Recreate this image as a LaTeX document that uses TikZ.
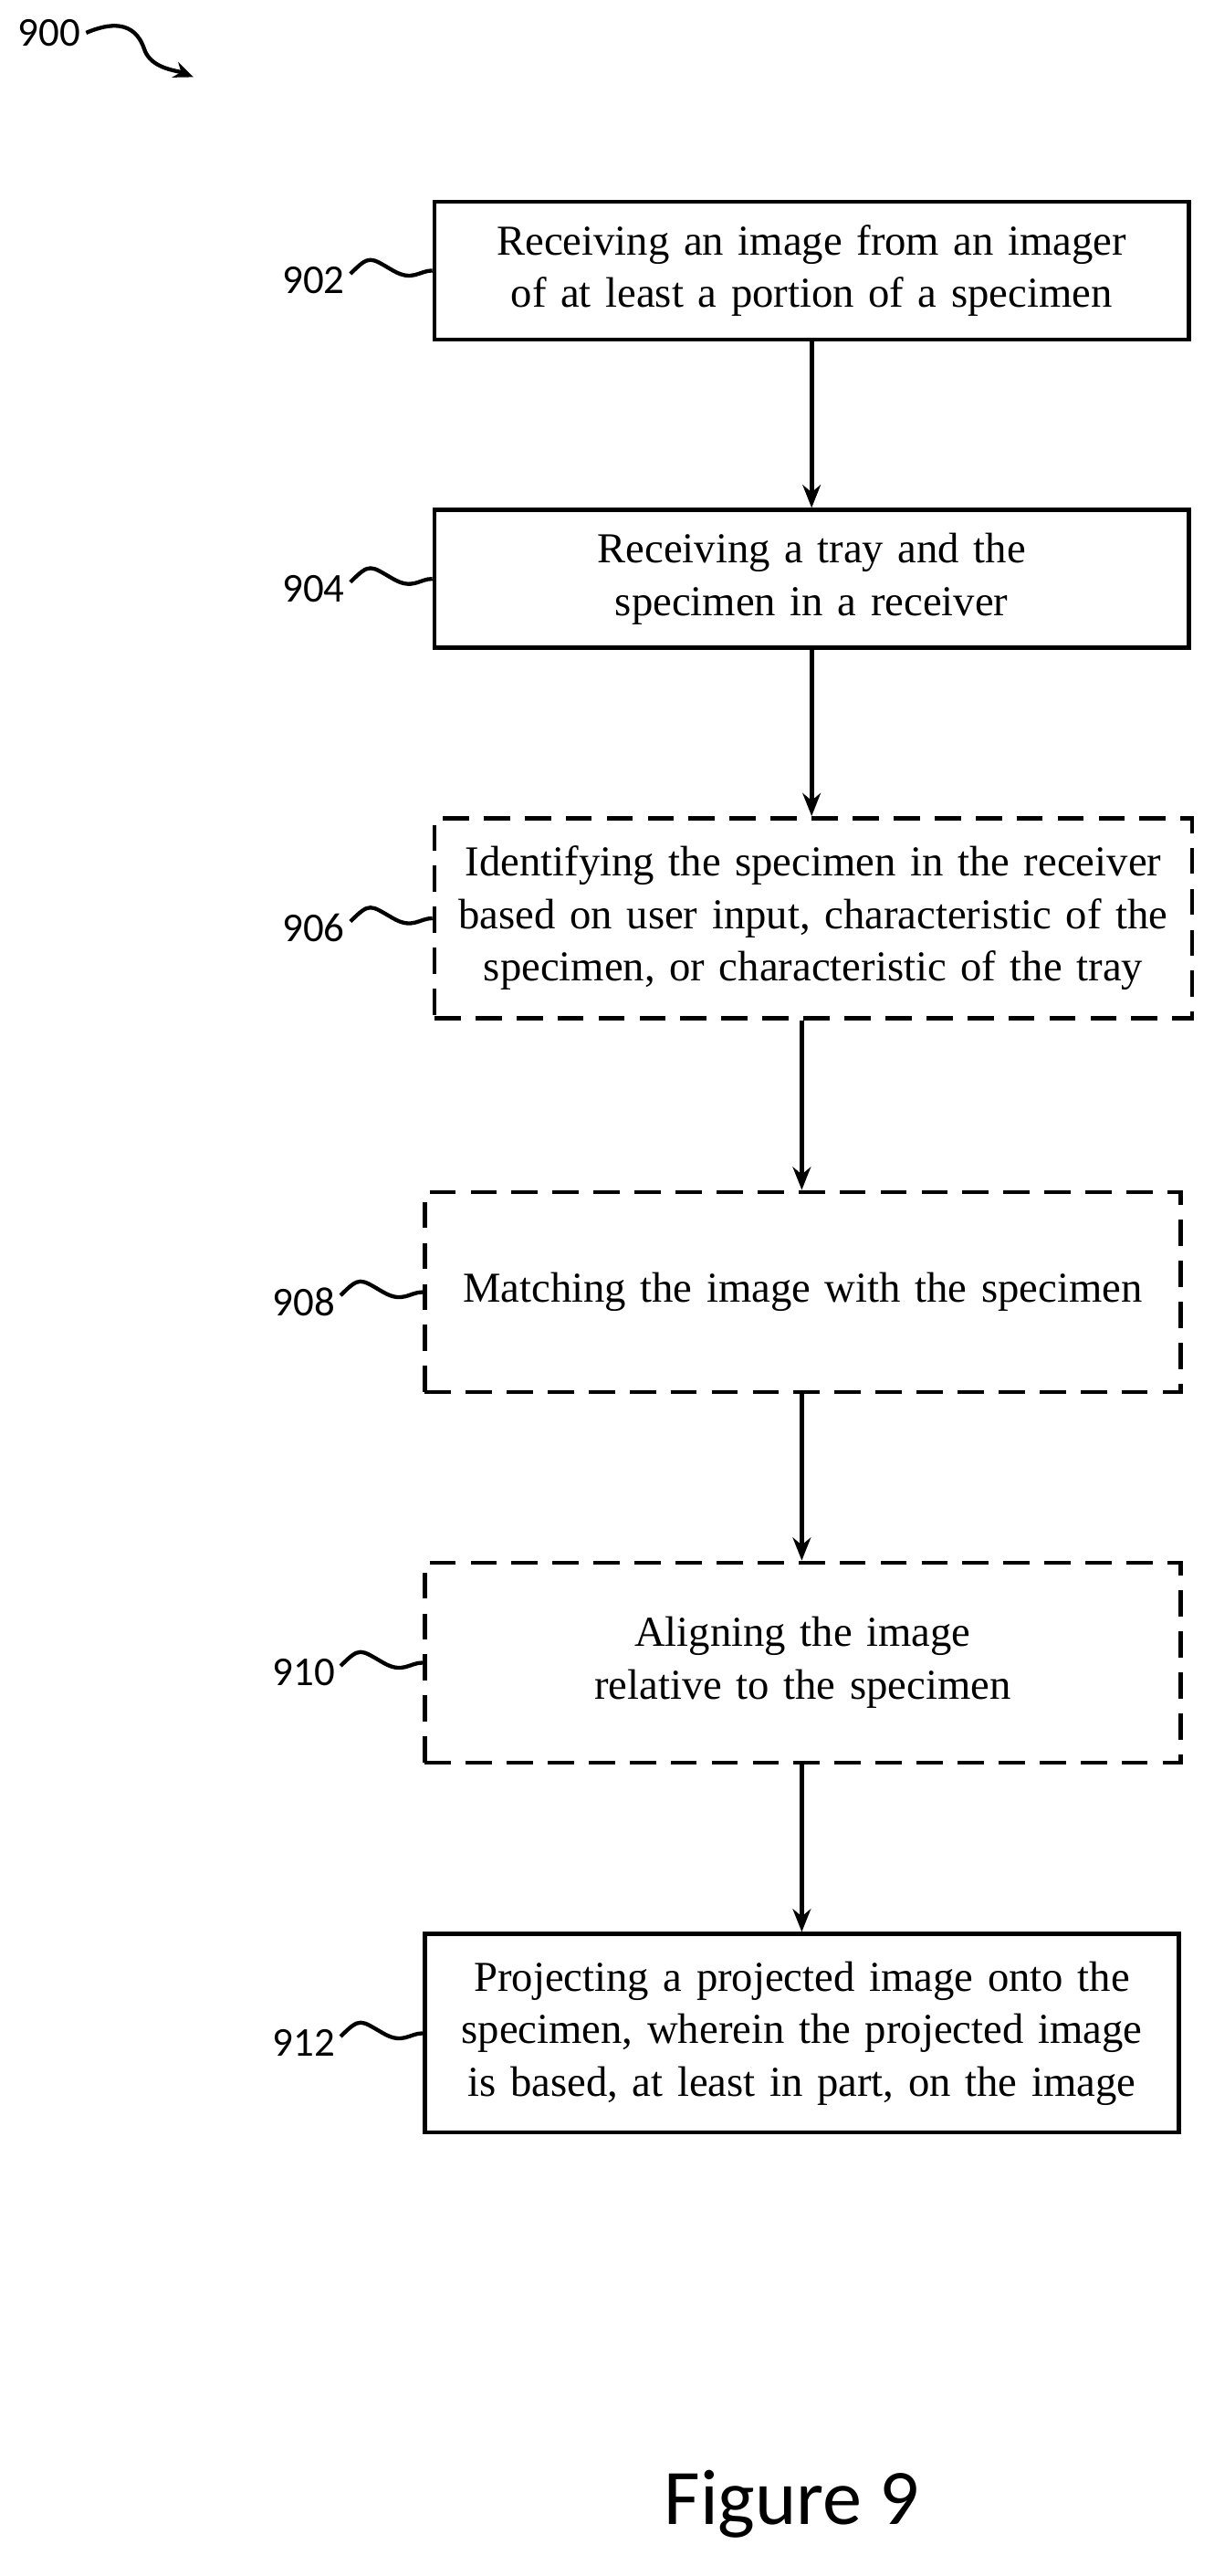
\documentclass[tikz,border=0pt]{standalone}
\usepackage{fontspec}
\setmainfont{Liberation Serif}
\newfontfamily\lab{Carlito}
\usetikzlibrary{arrows.meta}
\begin{document}
\begin{tikzpicture}[x=1pt,y=-1pt,
  box/.style={draw,line width=2.6pt,minimum height=84pt,text width=450pt,align=center,inner sep=0pt,font=\fontsize{26}{32}\selectfont},
  dbox/.style={box,dash pattern=on 16pt off 9pt,minimum height=122pt},
  lbl/.style={font=\lab\fontsize{25}{28}\selectfont,anchor=east},
  arr/.style={-{Stealth[length=14pt,width=11pt]},line width=2.6pt},
  sq/.style={line width=2.4pt}]
\useasboundingbox (0,0) rectangle (740,1571);
\node[box,minimum width=460pt] (b902) at (495,165) {Receiving an image from an imager\\of at least a portion of a specimen};
\node[box,minimum width=460pt] (b904) at (495,353) {Receiving a tray and the\\specimen in a receiver};
\node[dbox,minimum width=462pt] (b906) at (496,560) {Identifying the specimen in the receiver\\based on user input, characteristic of the\\specimen, or characteristic of the tray};
\node[dbox,minimum width=461pt] (b908) at (489.5,788) {Matching the image with the specimen};
\node[dbox,minimum width=461pt] (b910) at (489.5,1014) {Aligning the image\\relative to the specimen};
\node[box,minimum width=460pt,minimum height=121pt] (b912) at (489,1240) {Projecting a projected image onto the\\specimen, wherein the projected image\\is based, at least in part, on the image};
\draw[arr] (b902.south-|495,0) -- (b904.north-|495,0);
\draw[arr] (b904.south-|495,0) -- (b906.north-|495,0);
\draw[arr] (b906.south-|489,0) -- (b908.north-|489,0);
\draw[arr] (b908.south-|489,0) -- (b910.north-|489,0);
\draw[arr] (b910.south-|489,0) -- (b912.north-|489,0);
\foreach \n/\lx in {902/b902,904/b904,906/b906,908/b908,910/b910,912/b912}{
  \node[lbl] (l\n) at ([xshift=-50pt,yshift=-6pt]\lx.west) {\n};
  \draw[sq] ([yshift=4pt]l\n.east) .. controls +(12,-12) and +(-14,-8) .. ([xshift=-24pt]\lx.west) .. controls +(12,7) and +(-8,0) .. (\lx.west);
}
\node[font=\lab\fontsize{25}{28}\selectfont] (l900) at (30,20) {900};
\coordinate (e900) at (118,47);
\draw[sq,-{Stealth[length=12pt,width=10pt]}] (l900.east) .. controls +(14,-6) and +(-6,-18) .. (88,30) .. controls +(4,12) and +(-10,-4) .. (e900);
\node[font=\lab\fontsize{48}{54}\selectfont] (fig) at (483,1527) {Figure 9};
\end{tikzpicture}
\end{document}
